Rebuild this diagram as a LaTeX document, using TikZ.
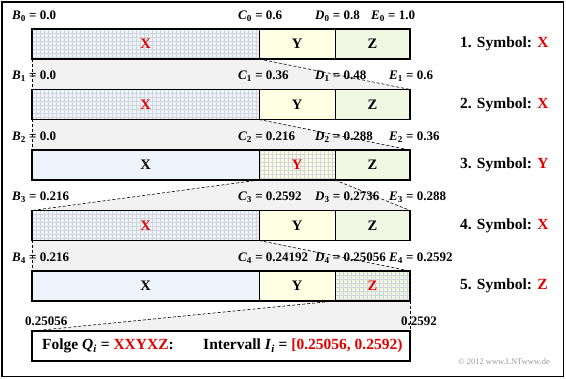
\documentclass[tikz,border=0pt]{standalone}
\usepackage{fontspec}
\setmainfont{Liberation Serif}
\usetikzlibrary{backgrounds}
\definecolor{xc}{HTML}{EEF4FC}
\definecolor{yc}{HTML}{FFFFE4}
\definecolor{zc}{HTML}{F0F8E4}
\definecolor{gridc}{HTML}{D2D6DC}
\definecolor{trap}{HTML}{F2F2F2}
\definecolor{lntred}{HTML}{E00000}
\newcommand\lv[3]{\textit{#1}\textsubscript{#2} = #3}
\begin{document}
\begin{tikzpicture}[x=1pt,y=-1pt,
 seg/.style={draw, line width=0.6pt, minimum height=30pt, anchor=north west, inner sep=0pt, outer sep=0pt, font=\fontsize{14.5}{14.5}\selectfont\bfseries},
 segX/.style={seg, fill=xc, minimum width=227pt},
 segY/.style={seg, fill=yc, minimum width=76pt},
 segZ/.style={seg, fill=zc, minimum width=75pt},
 sel/.style={path picture={\draw[gridc, line width=0.35pt] (path picture bounding box.south west) grid[step=4pt] (path picture bounding box.north east);}, text=lntred},
 outer/.style={line width=1.6pt},
 trapline/.style={dash pattern=on 3pt off 2pt, line width=0.6pt},
 trapfill/.style={fill=trap},
 lab/.style={anchor=west, inner sep=0pt, font=\fontsize{13}{13}\selectfont\bfseries},
 sym/.style={anchor=west, inner sep=0pt, font=\fontsize{15.5}{15.5}\selectfont\bfseries},
]
\useasboundingbox (0,0) rectangle (566,379);
\draw[line width=1.2pt] (2,2) rectangle (563.5,376.5);

% bar 0
\node[segX,sel] (x0) at (32,29) {X};
\node[segY] (y0) at (259,29) {Y};
\node[segZ] (z0) at (335,29) {Z};
\draw[outer] (x0.north west) rectangle (z0.south east);
% bar 1
\node[segX,sel] (x1) at (32,89.5) {X};
\node[segY] (y1) at (259,89.5) {Y};
\node[segZ] (z1) at (335,89.5) {Z};
\draw[outer] (x1.north west) rectangle (z1.south east);
% bar 2
\node[segX] (x2) at (32,150) {X};
\node[segY,sel] (y2) at (259,150) {Y};
\node[segZ] (z2) at (335,150) {Z};
\draw[outer] (x2.north west) rectangle (z2.south east);
% bar 3
\node[segX,sel] (x3) at (32,210.5) {X};
\node[segY] (y3) at (259,210.5) {Y};
\node[segZ] (z3) at (335,210.5) {Z};
\draw[outer] (x3.north west) rectangle (z3.south east);
% bar 4
\node[segX] (x4) at (32,271) {X};
\node[segY] (y4) at (259,271) {Y};
\node[segZ,sel] (z4) at (335,271) {Z};
\draw[outer] (x4.north west) rectangle (z4.south east);
% final box
\node[draw, line width=1.6pt, fill=white, minimum width=378pt, minimum height=30pt, anchor=north west, inner sep=0pt, outer sep=0pt] (fb) at (32,331) {};
\node[anchor=west, inner sep=0pt, font=\fontsize{15.5}{15.5}\selectfont\bfseries] (ft) at (42,346)
 {Folge \textit{Q}\textsubscript{\textit{i}} = \textcolor{lntred}{XXYXZ}:\hspace{1.9em}Intervall \textit{I}\textsubscript{\textit{i}} = \textcolor{lntred}{[0.25056, 0.2592)}};

% trapezoid fills
\begin{scope}[on background layer]
\fill[trapfill] (x0.south west) -- (x0.south east) -- (z1.north east) -- (x1.north west) -- cycle;
\fill[trapfill] (x1.south west) -- (x1.south east) -- (z2.north east) -- (x2.north west) -- cycle;
\fill[trapfill] (y2.south west) -- (y2.south east) -- (z3.north east) -- (x3.north west) -- cycle;
\fill[trapfill] (x3.south west) -- (x3.south east) -- (z4.north east) -- (x4.north west) -- cycle;
\fill[trapfill] (z4.south west) -- (z4.south east) -- (fb.north east) -- (fb.north west) -- cycle;
\end{scope}

% labels row 0
\node[lab] (b0) at (12,16) {\lv{B}{0}{0.0}};
\node[lab] (c0) at (238,16) {\lv{C}{0}{0.6}};
\node[lab] (d0) at (315,16) {\lv{D}{0}{0.8}};
\node[lab] (e0) at (371,16) {\lv{E}{0}{1.0}};
% row 1
\node[lab] (b1) at (12,76.5) {\lv{B}{1}{0.0}};
\node[lab] (c1) at (238,76.5) {\lv{C}{1}{0.36}};
\node[lab] (d1) at (315,76.5) {\lv{D}{1}{0.48}};
\node[lab] (e1) at (389,76.5) {\lv{E}{1}{0.6}};
% row 2
\node[lab] (b2) at (12,137) {\lv{B}{2}{0.0}};
\node[lab] (c2) at (238,137) {\lv{C}{2}{0.216}};
\node[lab] (d2) at (315,137) {\lv{D}{2}{0.288}};
\node[lab] (e2) at (389,137) {\lv{E}{2}{0.36}};
% row 3
\node[lab] (b3) at (12,197.5) {\lv{B}{3}{0.216}};
\node[lab] (c3) at (238,197.5) {\lv{C}{3}{0.2592}};
\node[lab] (d3) at (315,197.5) {\lv{D}{3}{0.2736}};
\node[lab] (e3) at (389,197.5) {\lv{E}{3}{0.288}};
% row 4
\node[lab] (b4) at (12,258) {\lv{B}{4}{0.216}};
\node[lab] (c4) at (238,258) {\lv{C}{4}{0.24192}};
\node[lab] (d4) at (315,258) {\lv{D}{4}{0.25056}};
\node[lab] (e4) at (389,258) {\lv{E}{4}{0.2592}};
% bottom
\node[lab] (lo) at (25,321) {0.25056};
\node[lab] (hi) at (401,321) {0.2592};

% symbols
\node[sym] (s1) at (460,44) {1. Symbol: \textcolor{lntred}{X}};
\node[sym] (s2) at (460,104.5) {2. Symbol: \textcolor{lntred}{X}};
\node[sym] (s3) at (460,165) {3. Symbol: \textcolor{lntred}{Y}};
\node[sym] (s4) at (460,225.5) {4. Symbol: \textcolor{lntred}{X}};
\node[sym] (s5) at (460,286) {5. Symbol: \textcolor{lntred}{Z}};

% dashed edges
\draw[trapline] (x0.south west) -- (x1.north west);
\draw[trapline] (x0.south east) -- (z1.north east);
\draw[trapline] (x1.south west) -- (x2.north west);
\draw[trapline] (x1.south east) -- (z2.north east);
\draw[trapline] (y2.south west) -- (x3.north west);
\draw[trapline] (y2.south east) -- (z3.north east);
\draw[trapline] (x3.south west) -- (x4.north west);
\draw[trapline] (x3.south east) -- (z4.north east);
\draw[trapline] (z4.south west) -- (fb.north west);
\draw[trapline] (z4.south east) -- (fb.north east);

\node[font=\fontsize{8.5}{8.5}\selectfont, text=black!40, anchor=east, inner sep=0pt] (cr) at (550,362) {© 2012 www.LNTwww.de};
\end{tikzpicture}
\end{document}
